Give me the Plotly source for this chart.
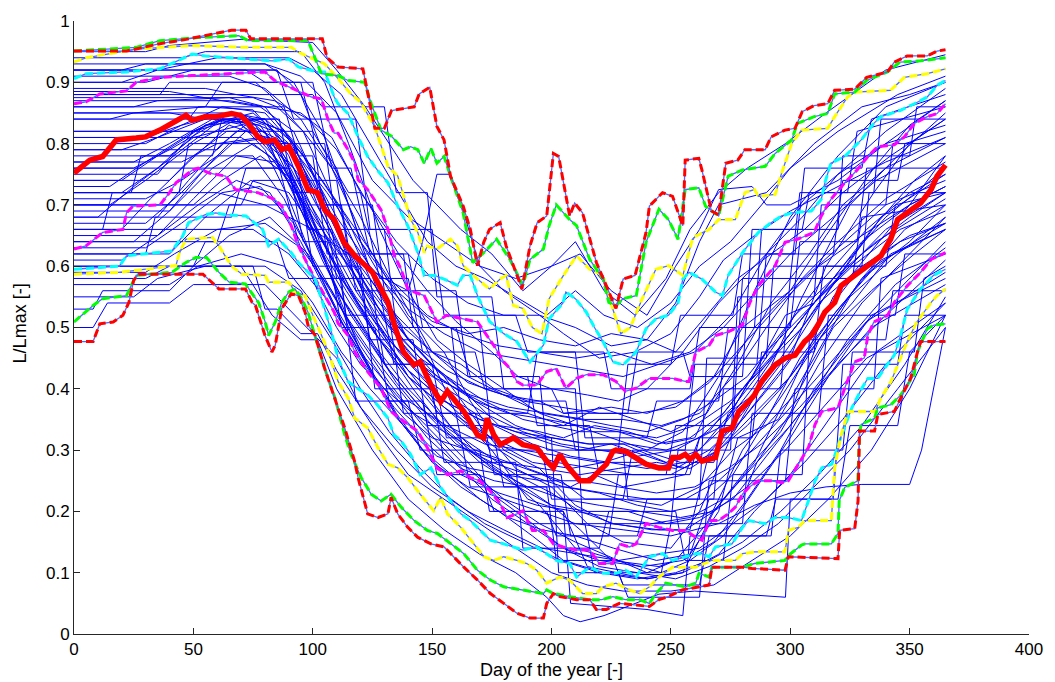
import plotly.graph_objects as go

# ---------------- envelope curves (day, L/Lmax) ----------------
red_upper = [(0,.951),(22,.951),(36,.963),(47,.97),(66,.985),(72,.985),(74,.971),(104,.971),(106,.94),(110.6,.925),(121,.922),(126,.825),(130,.825),(133,.854),(142.5,.86),(144.6,.881),(149,.892),(152,.828),(155,.806),(157.7,.747),(163,.698),(166,.66),(169,.601),(171.6,.639),(174,.66),(178.5,.671),(181,.633),(187.6,.563),(191,.633),(194,.671),(198,.682),(200.8,.784),(203,.779),(207.6,.682),(209.7,.703),(213,.687),(218.8,.606),(223,.569),(227,.531),(230,.579),(235,.585),(239.6,.655),(241,.698),(246.5,.72),(250.7,.714),(255,.666),(256,.773),(261.7,.776),(263,.757),(267,.69),(270,.684),(273,.768),(278,.773),(281,.79),(289.5,.79),(292,.811),(297.8,.822),(302,.825),(305,.852),(310,.862),(315.7,.865),(318.6,.887),(327,.889),(332,.908),(340.7,.917),(343.6,.933),(349,.943),(357.4,.943),(361.5,.951),(365,.953)]
green_upper = [(0,.951),(26,.957),(36,.968),(52,.973),(69,.976),(73,.968),(91,.968),(98,.968),(103.6,.914),(110.6,.911),(114.8,.903),(121.7,.90),(124.5,.865),(128.6,.822),(133,.812),(138,.79),(141,.795),(144,.79),(146.7,.768),(149.5,.792),(152,.768),(155,.779),(157.7,.747),(163,.687),(167,.606),(171.6,.622),(177,.644),(182.6,.611),(188,.569),(191,.611),(196.6,.628),(199,.666),(202,.70),(205,.687),(207.6,.676),(210.5,.666),(216,.611),(221.6,.579),(224,.541),(227,.536),(230,.547),(235.5,.552),(239.6,.639),(245,.693),(249,.676),(253,.644),(256,.725),(261.7,.728),(264.5,.698),(270,.682),(274,.747),(280,.757),(289.5,.763),(293.7,.784),(300.6,.806),(303,.833),(310,.844),(315.7,.849),(318.6,.881),(327,.884),(332,.903),(340.7,.917),(346,.933),(354.6,.935),(365,.94)]
yellow_upper = [(0,.933),(5,.94),(26,.954),(36,.957),(49.5,.96),(72,.957),(91,.957),(94,.949),(105,.93),(110.6,.906),(116,.881),(120,.868),(126,.827),(131.5,.763),(135.6,.747),(141,.676),(144,.655),(146.7,.622),(148,.633),(152,.628),(157.7,.644),(160.6,.633),(163,.601),(169,.579),(174,.563),(178.5,.579),(181,.585),(184,.536),(188,.531),(192,.50),(196,.49),(199,.547),(205,.585),(210.5,.617),(216,.595),(221.6,.585),(225.6,.531),(229,.49),(233,.50),(238,.547),(243.7,.595),(249,.601),(255,.585),(259,.644),(260.4,.649),(266,.66),(270,.676),(277,.676),(281,.72),(285,.725),(286.6,.714),(293.7,.717),(296.4,.752),(300.6,.80),(304.7,.822),(315.7,.825),(318.6,.844),(324,.876),(327,.884),(342,.887),(347.8,.908),(357.4,.914),(365,.922)]
cyan_upper = [(0,.906),(5,.914),(22,.917),(36,.922),(49.5,.946),(55,.943),(72,.938),(83,.935),(90,.938),(94,.925),(102,.917),(105,.917),(109,.876),(110.6,.865),(114.8,.849),(119,.811),(123,.779),(127,.757),(131.5,.736),(135.6,.698),(139.8,.666),(144,.622),(146.7,.585),(151,.585),(155,.579),(160.6,.569),(163,.585),(166,.585),(169,.552),(174,.51),(180,.49),(185.5,.477),(191,.444),(196.6,.471),(199,.514),(204.8,.54),(206,.558),(210,.547),(214.6,.525),(218,.50),(221.6,.477),(225.7,.444),(230,.439),(235.4,.46),(239.6,.498),(243.7,.514),(249,.52),(253,.54),(255,.579),(257.6,.59),(263,.579),(268.7,.558),(271.6,.552),(274,.585),(280,.622),(286.6,.655),(292,.671),(296.4,.682),(300.6,.687),(308.8,.69),(313,.709),(314.5,.736),(317,.768),(322.8,.779),(329.7,.806),(335,.833),(338,.844),(346,.854),(352,.865),(357.4,.876),(361.5,.895),(365,.903)]
magenta_upper = [(0,.865),(5,.868),(10.8,.881),(22,.886),(26,.90),(36,.908),(49.5,.911),(80,.917),(84,.903),(88.4,.895),(99.5,.876),(103.6,.873),(106.5,.838),(109,.817),(110.6,.817),(114.8,.79),(117.6,.768),(119,.741),(123,.725),(128.6,.692),(131.5,.66),(134.2,.617),(137,.595),(139.8,.563),(142.4,.558),(146.7,.552),(152,.509),(156,.52),(163,.514),(169,.509),(175.8,.471),(180,.444),(182.6,.433),(185.5,.412),(188,.406),(193.8,.406),(198,.428),(202,.433),(206,.401),(210.5,.417),(214.6,.423),(221.6,.423),(227,.412),(231,.396),(235.4,.401),(241,.417),(250.7,.417),(256,.412),(257.6,.412),(260.4,.46),(266,.471),(268.7,.487),(274,.493),(280,.504),(283,.54),(286.6,.568),(293.7,.601),(297.8,.639),(303,.644),(310,.655),(313,.682),(317,.709),(322.8,.736),(328,.757),(332.5,.779),(336.6,.795),(343.6,.798),(347.8,.811),(352,.833),(357.4,.844),(361.5,.849),(365,.865)]
median_line = [(0,.752),(3.9,.763),(6.6,.773),(12,.779),(15,.795),(17.7,.806),(26,.809),(30,.811),(36,.822),(42.7,.838),(46.9,.846),(49.5,.838),(55,.844),(59.3,.844),(66,.849),(69.7,.846),(73,.833),(77,.811),(80,.803),(84,.806),(87,.79),(90,.795),(94,.763),(98,.725),(102,.72),(105,.692),(109,.676),(113,.639),(117.6,.617),(121,.605),(125,.59),(129,.56),(131.5,.541),(134.2,.504),(138,.46),(142.4,.439),(145,.444),(149.5,.406),(153.6,.379),(156.4,.396),(160.6,.374),(163.3,.363),(169,.325),(171.6,.32),(173,.352),(175.8,.325),(178.6,.309),(184,.32),(188,.309),(193.8,.304),(198,.282),(200.8,.271),(203.5,.293),(206,.277),(211.9,.25),(216,.25),(220,.266),(223,.277),(225.7,.298),(227,.30),(231,.298),(235.4,.288),(239.6,.277),(245,.271),(249,.271),(250.7,.288),(253.5,.288),(256,.293),(258,.285),(260.4,.293),(263,.282),(268.7,.288),(271.5,.331),(275.6,.336),(278.4,.363),(282.6,.379),(285,.39),(288,.412),(293.7,.439),(297.8,.45),(302,.455),(306,.477),(308.9,.487),(311.6,.504),(314.5,.525),(318.6,.541),(321.3,.568),(327,.585),(332.5,.601),(338,.617),(342,.644),(345,.676),(349,.687),(354.6,.703),(359,.725),(361.5,.747),(365,.765)]
magenta_lower = [(0,.628),(5,.633),(12,.655),(20.5,.66),(22,.687),(24.7,.698),(36,.70),(40,.72),(42.7,.736),(49.6,.757),(52,.76),(56.6,.752),(63.5,.747),(67.6,.725),(77,.72),(84,.709),(87,.698),(91,.666),(94,.633),(99.5,.59),(105,.552),(109,.525),(110.6,.507),(114.8,.487),(117.6,.46),(123,.428),(128.6,.401),(132.8,.363),(138,.347),(143.9,.331),(148,.304),(152,.271),(156.4,.26),(162,.266),(166,.255),(170,.25),(174.4,.233),(178.6,.212),(181.4,.19),(185.5,.196),(188,.201),(192,.169),(196.6,.169),(200.8,.147),(204.9,.142),(210.5,.137),(216,.137),(220,.115),(225.6,.115),(228.5,.147),(232.6,.142),(235.4,.147),(239.6,.18),(245,.174),(250.7,.169),(256,.169),(260.4,.158),(263,.153),(266,.185),(270,.185),(274,.196),(277,.207),(280,.228),(282.6,.239),(286.7,.25),(292,.25),(296.4,.247),(299.2,.25),(303.4,.277),(307.6,.304),(310.4,.342),(313.2,.363),(320,.369),(322.8,.401),(327,.444),(331,.45),(332.5,.487),(335,.509),(340.8,.52),(343.6,.541),(349,.568),(354.6,.59),(359,.611),(365,.622)]
cyan_lower = [(0,.595),(19,.6),(22,.617),(41,.625),(45.5,.649),(48,.671),(55,.684),(59.3,.687),(63.5,.684),(72,.682),(79,.66),(81.5,.633),(85.7,.644),(91,.622),(94,.606),(101,.579),(105,.53),(108,.49),(110.6,.45),(114.8,.412),(119,.40),(123,.39),(127,.374),(131.5,.352),(134,.325),(137,.315),(141,.293),(145,.26),(149.5,.271),(153.6,.239),(157.8,.217),(162,.196),(166,.185),(170,.169),(174.4,.153),(180,.147),(184,.142),(188,.137),(193.8,.142),(198,.131),(202,.12),(207.6,.115),(210.5,.093),(216,.109),(221.6,.099),(227,.099),(231,.104),(235.4,.093),(238,.109),(241,.126),(246.5,.131),(250.7,.12),(256,.126),(260.4,.131),(263,.131),(266,.126),(268.7,.142),(275.6,.147),(280,.174),(282.6,.185),(289.5,.18),(293.7,.19),(299.2,.19),(304.7,.185),(307.6,.217),(310.4,.25),(313.2,.271),(317.4,.277),(321.6,.325),(325.8,.369),(330,.401),(332.5,.417),(336.7,.417),(339.4,.433),(343.6,.455),(346.2,.487),(349,.53),(354.6,.563),(360,.585),(365,.595)]
yellow_lower = [(0,.587),(19,.59),(36,.598),(42.7,.601),(44,.62),(46.8,.644),(57.9,.647),(60.7,.633),(66,.60),(70.4,.587),(80,.585),(81.5,.574),(90,.574),(92.6,.558),(96.8,.552),(99.5,.525),(103.7,.487),(106.5,.46),(110.6,.412),(114.8,.385),(117.6,.352),(123,.336),(127.3,.304),(131.5,.277),(135.6,.271),(139.8,.255),(145,.228),(150.7,.201),(153.6,.223),(156.4,.196),(162,.174),(167.5,.147),(171.7,.126),(175.8,.12),(180,.126),(185.5,.12),(189.7,.115),(193.8,.104),(198,.083),(203.5,.093),(207.6,.088),(213,.066),(218.8,.066),(221.6,.077),(227,.083),(232.6,.072),(236.8,.066),(241,.077),(245,.093),(250.7,.109),(256,.109),(260.4,.109),(267,.12),(277,.12),(280,.131),(285,.134),(297.8,.134),(299.2,.169),(303.4,.174),(306,.185),(317.2,.185),(318.6,.271),(321.3,.325),(324.2,.363),(335.5,.363),(338,.385),(342.2,.412),(346.3,.45),(349,.477),(353,.509),(359,.541),(361.5,.552),(365,.563)]
green_lower = [(0,.509),(5,.525),(8,.536),(12,.547),(22,.552),(26,.585),(41,.59),(46.9,.606),(51,.614),(55.5,.614),(60.7,.59),(65,.574),(71.8,.571),(77.4,.54),(80,.51),(81.5,.487),(84.3,.509),(87,.541),(90,.558),(92.5,.563),(95.4,.547),(98,.525),(101,.487),(105,.433),(109.3,.385),(113.4,.325),(116,.293),(120.3,.255),(124.5,.228),(128.7,.217),(132.8,.228),(137,.207),(142.5,.185),(148,.169),(152.2,.164),(157.8,.147),(163.3,.131),(169,.104),(174.4,.088),(180,.077),(188,.072),(196.6,.066),(198,.072),(200.8,.066),(207.6,.061),(216,.056),(221,.056),(225.7,.061),(231,.056),(236.8,.056),(241,.05),(243.7,.066),(247.9,.083),(252,.08),(256,.077),(260.4,.083),(261.8,.099),(266,.093),(267.2,.109),(280,.109),(285,.115),(297.8,.12),(299.2,.128),(304.7,.145),(306,.147),(317.2,.147),(320,.164),(320.5,.217),(322.8,.239),(328.3,.25),(329,.325),(329.7,.342),(335.3,.352),(336.7,.369),(342.2,.374),(346.3,.39),(351.9,.423),(353.3,.46),(357.4,.498),(360.2,.504),(365,.506)]
red_lower = [(0,.477),(8,.477),(10.8,.506),(16.4,.509),(20.5,.52),(23,.541),(25,.577),(27,.587),(54,.587),(60.7,.563),(71.8,.563),(74.6,.541),(76,.536),(80,.487),(82.9,.46),(84.3,.471),(87,.531),(91,.555),(94,.552),(96.8,.525),(98,.504),(101,.487),(105,.433),(109.3,.385),(113.4,.336),(117.5,.282),(119,.255),(123,.196),(127.3,.19),(131.5,.196),(132.8,.223),(135.6,.196),(139.8,.174),(143.9,.158),(149.5,.147),(155,.142),(159,.126),(163.3,.109),(169,.088),(174.4,.066),(180,.05),(185.5,.034),(191,.026),(196.6,.026),(198,.05),(200.8,.066),(203.5,.061),(210.5,.056),(216,.056),(218.8,.04),(223,.04),(228.5,.05),(241,.045),(245,.056),(249,.061),(254.8,.072),(266,.08),(267.2,.109),(280,.109),(284,.107),(297.8,.104),(299.2,.126),(320,.123),(320.7,.169),(327,.172),(328.4,.217),(329,.331),(335.3,.331),(336.7,.358),(343.6,.363),(346.3,.385),(350.4,.417),(353.3,.46),(354.6,.477),(365,.477)]

# ---------------- individual years (thin blue lines) ----------------
blue_01 = [(0,.94),(45,.94),(55,.95),(95,.95),(105,.90),(115,.80),(128,.66),(140,.56),(152,.48),(165,.44),(180,.40),(195,.36),(210,.34),(225,.32),(240,.30),(255,.33),(270,.42),(285,.56),(300,.68),(320,.78),(340,.86),(365,.90)]
blue_02 = [(0,.92),(20,.92),(30,.93),(80,.93),(92,.90),(104,.82),(115,.70),(127,.56),(140,.48),(155,.42),(170,.34),(185,.27),(200,.24),(215,.18),(230,.15),(250,.14),(262,.20),(275,.32),(290,.42),(305,.55),(325,.70),(345,.78),(365,.85)]
blue_03 = [(0,.91),(65,.91),(80,.89),(95,.84),(108,.76),(122,.64),(140,.52),(155,.46),(166,.38),(180,.30),(195,.27),(210,.21),(225,.18),(245,.17),(258,.17),(265,.28),(280,.35),(300,.45),(315,.60),(335,.72),(350,.80),(365,.84)]
blue_04 = [(0,.90),(30,.90),(50,.92),(85,.92),(95,.88),(103,.80),(110,.76),(120,.64),(132,.56),(146,.48),(160,.36),(175,.30),(190,.22),(205,.20),(215,.11),(240,.09),(255,.10),(268,.20),(285,.28),(300,.40),(318,.55),(335,.63),(350,.70),(365,.78)]
blue_05 = [(0,.89),(55,.89),(68,.88),(84,.87),(98,.84),(110,.79),(122,.71),(136,.62),(148,.56),(160,.51),(175,.46),(186,.42),(200,.40),(215,.39),(228,.38),(240,.40),(255,.46),(270,.54),(290,.62),(305,.68),(320,.75),(340,.82),(365,.89)]
blue_06 = [(0,.885),(40,.885),(62,.87),(78,.86),(92,.82),(104,.72),(116,.60),(128,.50),(140,.42),(155,.35),(170,.29),(185,.25),(200,.21),(212,.17),(225,.12),(245,.11),(258,.13),(270,.20),(278,.32),(295,.35),(310,.45),(325,.55),(345,.62),(365,.68)]
blue_07 = [(0,.875),(75,.875),(85,.86),(96,.82),(108,.76),(120,.68),(134,.57),(150,.46),(165,.41),(180,.39),(195,.38),(205,.36),(225,.37),(240,.36),(255,.38),(268,.42),(280,.50),(300,.56),(315,.65),(335,.76),(350,.83),(365,.87)]
blue_08 = [(0,.86),(25,.86),(35,.87),(65,.875),(80,.86),(92,.80),(102,.70),(112,.62),(124,.52),(136,.45),(150,.38),(165,.30),(180,.26),(195,.21),(210,.14),(228,.12),(240,.10),(252,.12),(265,.18),(280,.30),(295,.38),(312,.48),(330,.58),(350,.64),(365,.70)]
blue_09 = [(0,.85),(62,.85),(72,.845),(88,.82),(102,.75),(114,.68),(126,.58),(140,.48),(152,.43),(165,.39),(178,.34),(195,.33),(205,.32),(218,.34),(232,.33),(248,.31),(260,.32),(272,.42),(285,.50),(300,.56),(320,.63),(340,.70),(365,.74)]
blue_10 = [(0,.84),(15,.84),(25,.85),(55,.86),(75,.855),(88,.80),(98,.74),(110,.66),(122,.58),(136,.50),(150,.44),(168,.38),(185,.34),(200,.32),(215,.31),(230,.31),(248,.28),(262,.30),(275,.36),(290,.46),(305,.52),(320,.58),(340,.66),(365,.72)]
blue_11 = [(0,.82),(50,.82),(62,.84),(84,.84),(95,.79),(106,.70),(118,.60),(132,.50),(145,.44),(160,.40),(175,.37),(190,.36),(205,.34),(220,.37),(235,.35),(250,.33),(265,.36),(278,.44),(292,.54),(308,.62),(322,.70),(340,.76),(365,.81)]
blue_12 = [(0,.81),(30,.81),(45,.83),(65,.85),(80,.83),(90,.76),(100,.66),(110,.56),(122,.49),(135,.41),(150,.34),(165,.28),(178,.22),(192,.18),(205,.14),(220,.12),(238,.11),(255,.12),(268,.15),(282,.22),(296,.30),(310,.40),(330,.50),(350,.58),(365,.64)]
blue_13 = [(0,.80),(30,.80),(45,.83),(62,.86),(80,.85),(96,.78),(110,.68),(124,.60),(140,.53),(155,.49),(170,.46),(185,.45),(200,.44),(215,.43),(230,.42),(245,.44),(260,.46),(275,.52),(290,.62),(305,.70),(320,.75),(340,.80),(365,.83)]
blue_14 = [(0,.79),(20,.79),(35,.81),(55,.84),(70,.85),(82,.81),(92,.73),(102,.64),(114,.56),(126,.49),(140,.43),(155,.38),(170,.35),(185,.33),(200,.31),(212,.30),(225,.31),(240,.29),(255,.27),(270,.30),(285,.36),(300,.42),(318,.52),(335,.60),(365,.67)]
blue_15 = [(0,.78),(40,.78),(50,.81),(70,.83),(86,.79),(96,.69),(108,.59),(120,.51),(132,.43),(145,.37),(160,.31),(175,.28),(190,.26),(205,.24),(220,.23),(236,.21),(250,.20),(262,.21),(276,.26),(290,.35),(304,.45),(320,.53),(338,.61),(365,.66)]
blue_16 = [(0,.77),(25,.77),(40,.80),(58,.84),(72,.83),(86,.77),(100,.68),(115,.60),(130,.51),(145,.45),(160,.41),(172,.38),(188,.35),(200,.34),(212,.33),(228,.33),(244,.32),(260,.34),(275,.38),(290,.44),(305,.50),(320,.58),(338,.68),(365,.75)]
blue_17 = [(0,.76),(25,.76),(40,.79),(62,.84),(76,.83),(88,.75),(100,.65),(112,.55),(126,.47),(140,.40),(155,.34),(170,.30),(185,.26),(200,.23),(212,.20),(226,.18),(242,.17),(256,.17),(268,.20),(282,.27),(296,.33),(312,.44),(330,.54),(350,.62),(365,.68)]
blue_18 = [(0,.74),(20,.74),(35,.78),(55,.83),(80,.84),(92,.80),(104,.74),(118,.66),(132,.58),(148,.52),(162,.49),(178,.47),(195,.46),(210,.45),(226,.46),(242,.44),(258,.46),(272,.50),(286,.56),(300,.62),(318,.68),(336,.74),(365,.80)]
blue_19 = [(0,.73),(15,.73),(30,.77),(50,.82),(68,.84),(80,.79),(90,.71),(100,.61),(110,.53),(122,.45),(135,.39),(150,.33),(165,.27),(180,.22),(195,.18),(210,.15),(228,.12),(246,.10),(258,.12),(272,.16),(286,.24),(300,.32),(316,.42),(334,.52),(365,.58)]
blue_20 = [(0,.72),(20,.72),(35,.76),(55,.83),(75,.85),(90,.80),(105,.70),(120,.60),(135,.52),(150,.46),(165,.42),(180,.39),(196,.36),(212,.35),(225,.34),(240,.33),(255,.35),(268,.38),(282,.42),(298,.50),(314,.58),(332,.66),(350,.72),(365,.75)]
blue_21 = [(0,.71),(30,.71),(45,.74),(60,.78),(75,.78),(88,.71),(100,.61),(112,.51),(124,.43),(136,.35),(148,.29),(162,.24),(178,.20),(192,.16),(205,.12),(222,.10),(240,.09),(255,.10),(270,.13),(285,.20),(300,.26),(318,.36),(336,.46),(365,.54)]
blue_22 = [(0,.70),(15,.70),(30,.74),(50,.80),(68,.84),(84,.81),(96,.72),(110,.63),(124,.55),(138,.48),(152,.42),(168,.38),(182,.36),(198,.35),(212,.34),(228,.33),(244,.31),(258,.32),(272,.36),(288,.44),(302,.52),(318,.58),(336,.64),(365,.71)]
blue_23 = [(0,.69),(40,.69),(55,.76),(72,.82),(90,.80),(106,.72),(120,.64),(135,.56),(150,.51),(165,.49),(180,.50),(195,.48),(210,.47),(225,.49),(240,.48),(252,.46),(265,.52),(278,.58),(292,.62),(306,.66),(322,.72),(342,.78),(365,.84)]
blue_24 = [(0,.68),(10,.68),(25,.73),(45,.79),(62,.84),(78,.83),(90,.76),(102,.66),(114,.57),(128,.48),(142,.40),(156,.33),(170,.28),(186,.24),(200,.21),(215,.20),(232,.20),(248,.18),(262,.19),(276,.22),(292,.30),(308,.38),(324,.48),(344,.57),(365,.63)]
blue_25 = [(0,.67),(30,.67),(45,.72),(65,.80),(82,.81),(96,.74),(110,.64),(124,.56),(140,.48),(156,.43),(172,.40),(188,.38),(204,.37),(220,.36),(236,.36),(252,.37),(266,.41),(280,.47),(296,.54),(312,.60),(330,.65),(350,.70),(365,.73)]
blue_26 = [(0,.66),(20,.66),(32,.71),(48,.77),(65,.83),(80,.81),(92,.72),(104,.61),(116,.52),(130,.44),(145,.37),(160,.32),(175,.27),(190,.24),(205,.22),(220,.21),(238,.20),(254,.19),(268,.20),(282,.24),(298,.30),(314,.37),(332,.45),(365,.52)]
blue_27 = [(0,.65),(35,.65),(50,.71),(68,.78),(84,.77),(98,.69),(112,.58),(126,.49),(140,.42),(155,.37),(170,.33),(186,.30),(202,.28),(218,.27),(234,.26),(250,.26),(265,.29),(280,.36),(296,.45),(312,.54),(330,.60),(350,.65),(365,.67)]
blue_28 = [(0,.64),(25,.64),(40,.69),(58,.76),(75,.80),(88,.76),(100,.67),(112,.58),(126,.50),(140,.43),(155,.38),(170,.35),(185,.33),(200,.32),(216,.31),(232,.31),(248,.30),(262,.32),(276,.37),(290,.44),(306,.52),(322,.60),(340,.68),(365,.76)]
blue_29 = [(0,.63),(30,.63),(45,.67),(62,.72),(78,.73),(92,.67),(105,.58),(118,.49),(132,.41),(146,.34),(160,.28),(175,.22),(190,.18),(205,.14),(220,.11),(236,.10),(252,.09),(266,.11),(280,.14),(295,.18),(310,.24),(325,.30),(345,.40),(365,.50)]
blue_30 = [(0,.62),(40,.62),(55,.68),(74,.74),(90,.72),(104,.64),(118,.55),(134,.47),(150,.42),(166,.39),(182,.37),(198,.36),(214,.35),(230,.35),(246,.34),(262,.36),(276,.42),(290,.50),(305,.58),(320,.64),(340,.71),(365,.77)]
blue_31 = [(0,.61),(20,.61),(35,.65),(52,.70),(68,.74),(82,.72),(95,.64),(108,.54),(120,.45),(134,.37),(148,.31),(162,.26),(178,.23),(194,.21),(210,.20),(226,.19),(242,.18),(258,.19),(272,.22),(286,.28),(300,.34),(316,.42),(334,.50),(365,.57)]
blue_32 = [(0,.60),(50,.60),(65,.65),(82,.68),(98,.62),(112,.53),(126,.45),(140,.38),(156,.34),(172,.31),(188,.30),(204,.29),(220,.28),(236,.28),(252,.27),(266,.30),(280,.35),(295,.42),(310,.50),(326,.58),(346,.64),(365,.67)]
blue_33 = [(0,.59),(30,.59),(42,.62),(60,.66),(80,.67),(95,.63),(108,.56),(120,.47),(134,.39),(148,.32),(162,.27),(176,.25),(190,.24),(206,.24),(222,.23),(240,.22),(256,.22),(270,.25),(284,.30),(298,.36),(314,.43),(332,.51),(365,.59)]
blue_34 = [(0,.57),(40,.57),(52,.60),(70,.62),(88,.60),(100,.54),(112,.46),(124,.40),(138,.34),(152,.29),(166,.27),(180,.26),(196,.25),(212,.25),(228,.24),(244,.23),(260,.24),(274,.27),(288,.31),(304,.37),(320,.44),(340,.52),(365,.61)]
blue_35 = [(0,.55),(25,.55),(35,.58),(55,.60),(80,.60),(95,.56),(108,.48),(120,.40),(132,.33),(145,.27),(158,.22),(172,.18),(188,.15),(204,.12),(220,.10),(236,.09),(252,.10),(266,.12),(280,.15),(296,.20),(312,.26),(330,.34),(348,.44),(365,.55)]
blue_36 = [(0,.53),(8,.53),(12,.56),(40,.56),(50,.60),(75,.60),(80,.53),(85,.53),(95,.49),(102,.49),(110,.43),(125,.34),(140,.26),(155,.22),(170,.18),(185,.14),(200,.10),(215,.08),(230,.07),(250,.07),(268,.08),(284,.12),(300,.16),(316,.22),(334,.30),(350,.40),(365,.52)]
blue_37 = [(0,.50),(8,.50),(14,.54),(40,.54),(50,.57),(80,.57),(95,.51),(110,.45),(120,.37),(135,.30),(150,.24),(165,.20),(180,.17),(196,.14),(212,.13),(228,.12),(244,.13),(262,.14),(276,.18),(290,.22),(306,.28),(322,.35),(340,.44),(365,.54)]
blue_38 = [(0,.88),(100,.88),(104,.86),(130,.86),(135,.72),(148,.72),(152,.55),(175,.55),(180,.40),(210,.40),(213,.18),(250,.18),(253,.30),(275,.30),(278,.55),(310,.55),(313,.70),(340,.70),(343,.80),(365,.80)]
blue_39 = [(0,.76),(90,.76),(95,.70),(125,.70),(130,.56),(160,.56),(165,.42),(195,.42),(198,.30),(230,.30),(232,.22),(262,.22),(265,.45),(290,.45),(293,.60),(330,.60),(333,.72),(365,.72)]
blue_40 = [(0,.70),(70,.70),(75,.74),(110,.74),(115,.62),(138,.62),(142,.50),(170,.50),(175,.32),(200,.32),(203,.10),(228,.10),(232,.06),(262,.06),(266,.25),(298,.25),(302,.40),(335,.40),(338,.58),(365,.62)]
blue_41 = [(0,.92),(85,.92),(92,.84),(118,.84),(124,.66),(150,.66),(155,.52),(185,.52),(190,.46),(222,.46),(225,.40),(258,.40),(262,.50),(285,.50),(288,.66),(320,.66),(322,.78),(350,.78),(353,.86),(365,.86)]
blue_42 = [(0,.64),(60,.64),(65,.70),(96,.70),(100,.60),(120,.60),(126,.40),(150,.40),(155,.28),(185,.28),(188,.14),(220,.14),(224,.20),(252,.20),(256,.12),(272,.12),(276,.26),(305,.26),(308,.48),(340,.48),(343,.56),(365,.56)]
blue_43 = [(0,.82),(75,.82),(80,.80),(105,.80),(110,.66),(130,.66),(135,.50),(158,.50),(162,.36),(190,.36),(194,.46),(210,.46),(214,.32),(240,.32),(244,.38),(270,.38),(274,.50),(300,.50),(304,.64),(328,.64),(332,.76),(365,.76)]
blue_44 = [(0,.60),(50,.60),(55,.64),(85,.64),(90,.58),(112,.58),(118,.38),(140,.38),(145,.30),(170,.30),(174,.20),(205,.20),(208,.05),(240,.04),(255,.03),(258,.16),(290,.16),(294,.22),(318,.22),(322,.44),(345,.44),(348,.52),(365,.52)]
blue_45 = [(0,.86),(55,.86),(62,.90),(95,.90),(100,.82),(115,.72),(120,.72),(128,.58),(140,.58),(146,.46),(168,.46),(172,.40),(200,.40),(205,.36),(232,.36),(236,.46),(255,.46),(258,.42),(280,.42),(284,.66),(305,.66),(308,.72),(335,.72),(338,.84),(365,.84)]
blue_46 = [(0,.58),(30,.58),(40,.60),(70,.60),(83,.52),(95,.48),(102,.48),(110,.40),(125,.30),(140,.22),(155,.17),(170,.13),(185,.10),(198,.06),(205,.03),(212,.02),(222,.03),(245,.065),(260,.07),(280,.065),(298,.06),(300,.22),(320,.22),(325,.34),(345,.34),(350,.46),(365,.52)]
blue_47 = [(0,.66),(75,.66),(90,.62),(105,.55),(120,.46),(135,.36),(150,.28),(165,.24),(180,.22),(195,.20),(210,.18),(230,.17),(250,.16),(270,.18),(285,.21),(300,.23),(315,.24),(330,.244),(350,.244),(355,.30),(360,.40),(365,.50)]
blue_48 = [(0,.72),(60,.72),(80,.70),(100,.66),(115,.62),(130,.58),(140,.56),(146,.64),(152,.75),(157,.75),(163,.69),(170,.60),(180,.56),(195,.52),(210,.50),(225,.47),(240,.48),(252,.54),(262,.64),(270,.70),(290,.72),(310,.80),(330,.86),(350,.88),(365,.90)]
blue_49 = [(0,.93),(80,.93),(95,.91),(110,.85),(125,.74),(140,.68),(155,.64),(170,.60),(185,.58),(200,.60),(212,.62),(225,.56),(240,.52),(252,.60),(262,.66),(270,.725),(284,.73),(290,.70),(300,.70),(320,.74),(340,.80),(365,.87)]
blue_50 = [(0,.87),(65,.87),(80,.86),(95,.85),(108,.81),(120,.72),(135,.64),(150,.58),(165,.54),(180,.52),(195,.52),(205,.49),(220,.45),(235,.46),(250,.49),(262,.55),(272,.61),(285,.65),(300,.69),(320,.73),(340,.77),(365,.81)]
blue_51 = [(0,.95),(30,.95),(40,.96),(70,.97),(100,.965),(110,.92),(122,.86),(132,.80),(142,.74),(152,.70),(162,.66),(175,.62),(188,.56),(200,.60),(210,.64),(222,.56),(235,.52),(248,.58),(258,.66),(270,.72),(282,.76),(298,.80),(315,.85),(340,.92),(365,.945)]
blue_52 = [(0,.90),(20,.90),(35,.92),(60,.94),(90,.94),(100,.92),(112,.88),(124,.80),(136,.72),(148,.64),(160,.60),(172,.58),(185,.55),(198,.52),(210,.56),(222,.52),(236,.50),(250,.54),(262,.60),(275,.64),(288,.70),(300,.76),(320,.82),(345,.88),(365,.91)]
blue_53 = [(0,.75),(35,.75),(50,.82),(66,.85),(80,.84),(90,.78),(98,.70),(106,.60),(115,.50),(126,.42),(138,.36),(150,.32),(165,.30),(180,.28),(196,.27),(212,.26),(228,.27),(244,.28),(258,.27),(270,.30),(282,.34),(296,.40),(312,.48),(330,.58),(348,.66),(365,.70)]
blue_54 = [(0,.85),(40,.85),(55,.84),(70,.84),(84,.82),(96,.76),(108,.66),(122,.55),(136,.46),(150,.40),(164,.35),(178,.31),(192,.28),(208,.27),(222,.28),(238,.30),(254,.28),(268,.28),(274,.36),(288,.40),(300,.46),(316,.56),(334,.66),(352,.74),(365,.78)]
blue_55 = [(0,.77),(45,.77),(60,.80),(78,.81),(92,.76),(104,.66),(118,.56),(132,.48),(146,.42),(160,.38),(176,.34),(192,.31),(208,.29),(224,.28),(240,.27),(256,.28),(270,.33),(284,.40),(298,.48),(314,.56),(330,.64),(350,.70),(365,.73)]
blue_56 = [(0,.68),(35,.68),(48,.74),(62,.80),(75,.84),(88,.82),(100,.74),(112,.64),(126,.54),(140,.46),(156,.40),(172,.36),(188,.33),(204,.31),(220,.30),(236,.29),(252,.30),(266,.33),(280,.40),(296,.47),(312,.55),(330,.62),(350,.68),(365,.72)]
blue_57 = [(0,.84),(48,.84),(52,.86),(88,.86),(94,.78),(100,.78),(106,.62),(118,.62),(124,.48),(142,.48),(148,.34),(172,.34),(176,.26),(204,.26),(208,.16),(236,.16),(240,.22),(268,.22),(272,.40),(296,.40),(300,.58),(326,.58),(330,.68),(365,.70)]
blue_58 = [(0,.66),(12,.66),(16,.72),(44,.72),(48,.80),(92,.80),(98,.66),(108,.66),(114,.52),(132,.52),(138,.36),(160,.36),(166,.24),(186,.24),(190,.18),(214,.18),(218,.10),(246,.10),(250,.18),(280,.18),(284,.36),(312,.36),(316,.52),(344,.52),(348,.62),(365,.62)]
blue_59 = [(0,.92),(72,.92),(80,.90),(100,.90),(108,.76),(116,.76),(124,.62),(140,.62),(146,.50),(160,.50),(166,.42),(190,.42),(194,.34),(216,.34),(220,.26),(248,.26),(252,.34),(276,.34),(280,.58),(300,.58),(304,.72),(324,.72),(328,.82),(365,.86)]
blue_60 = [(0,.79),(60,.79),(68,.82),(100,.82),(104,.70),(112,.70),(118,.56),(128,.56),(134,.44),(150,.44),(156,.32),(176,.32),(180,.24),(198,.24),(202,.12),(226,.12),(230,.08),(262,.08),(266,.16),(292,.16),(296,.30),(322,.30),(326,.46),(352,.46),(356,.58),(365,.60)]
blue_61 = [(0,.72),(24,.72),(28,.78),(58,.78),(62,.84),(86,.84),(92,.72),(104,.72),(110,.58),(124,.58),(130,.44),(146,.44),(152,.36),(168,.36),(174,.30),(196,.30),(200,.22),(230,.22),(234,.30),(256,.30),(260,.44),(286,.44),(290,.62),(318,.62),(322,.74),(345,.74),(348,.80),(365,.82)]
blue_62 = [(0,.62),(30,.62),(34,.68),(66,.68),(72,.76),(90,.76),(96,.64),(106,.64),(112,.50),(126,.50),(132,.38),(146,.38),(152,.26),(170,.26),(176,.20),(198,.20),(202,.16),(224,.16),(228,.26),(258,.26),(262,.32),(284,.32),(288,.46),(310,.46),(314,.60),(340,.60),(344,.70),(365,.72)]
blue_63 = [(0,.88),(36,.88),(40,.90),(76,.90),(82,.88),(96,.82),(110,.70),(124,.58),(138,.50),(150,.46),(162,.44),(176,.40),(190,.38),(206,.38),(210,.30),(228,.30),(232,.44),(250,.44),(254,.52),(276,.52),(280,.62),(302,.62),(306,.76),(330,.76),(334,.84),(365,.88)]
blue_64 = [(0,.81),(70,.81),(82,.78),(94,.72),(104,.62),(112,.54),(120,.46),(128,.40),(136,.35),(146,.30),(158,.26),(170,.22),(182,.19),(196,.17),(210,.16),(226,.14),(244,.12),(258,.13),(266,.22),(280,.22),(286,.28),(300,.36),(312,.48),(326,.54),(342,.62),(365,.66)]
blue_65 = [(0,.74),(40,.74),(50,.78),(64,.82),(80,.82),(86,.76),(94,.64),(102,.56),(110,.50),(120,.44),(130,.40),(142,.36),(155,.33),(168,.30),(182,.28),(196,.26),(208,.24),(218,.26),(230,.24),(244,.25),(256,.26),(262,.32),(272,.34),(284,.42),(298,.52),(310,.54),(326,.60),(346,.66),(365,.69)]
blue_66 = [(0,.70),(50,.70),(62,.74),(78,.78),(92,.74),(104,.66),(116,.56),(128,.48),(140,.42),(152,.38),(164,.34),(178,.30),(190,.27),(204,.25),(214,.22),(230,.22),(246,.21),(262,.24),(276,.30),(290,.34),(304,.40),(318,.50),(334,.56),(352,.62),(365,.66)]

blue_lines = [blue_01, blue_02, blue_03, blue_04, blue_05, blue_06, blue_07, blue_08,
              blue_09, blue_10, blue_11, blue_12, blue_13, blue_14, blue_15, blue_16,
              blue_17, blue_18, blue_19, blue_20, blue_21, blue_22, blue_23, blue_24,
              blue_25, blue_26, blue_27, blue_28, blue_29, blue_30, blue_31, blue_32,
              blue_33, blue_34, blue_35, blue_36, blue_37, blue_38, blue_39, blue_40,
              blue_41, blue_42, blue_43, blue_44, blue_45, blue_46, blue_47, blue_48,
              blue_49, blue_50, blue_51, blue_52, blue_53, blue_54, blue_55, blue_56,
              blue_57, blue_58, blue_59, blue_60, blue_61, blue_62, blue_63, blue_64,
              blue_65, blue_66]

x_ticks = [0, 50, 100, 150, 200, 250, 300, 350, 400]
y_ticks = [0, 0.1, 0.2, 0.3, 0.4, 0.5, 0.6, 0.7, 0.8, 0.9, 1]

BLUE = "#0000FF"
envelopes = [
    (magenta_upper, "#FF00FF"), (magenta_lower, "#FF00FF"),
    (cyan_upper, "#00FFFF"), (cyan_lower, "#00FFFF"),
    (yellow_upper, "#FFFF00"), (yellow_lower, "#FFFF00"),
    (green_upper, "#00FF00"), (green_lower, "#00FF00"),
    (red_upper, "#FF0000"), (red_lower, "#FF0000"),
]

fig = go.Figure()

def xs(pts):
    return [p[0] for p in pts]

def ys(pts):
    return [p[1] for p in pts]

for line in blue_lines:
    fig.add_trace(go.Scatter(x=xs(line), y=ys(line), mode="lines",
                             line=dict(color=BLUE, width=1),
                             hoverinfo="skip", showlegend=False))

for pts, color in envelopes:
    fig.add_trace(go.Scatter(x=xs(pts), y=ys(pts), mode="lines",
                             line=dict(color="#4F6BFF", width=1.3),
                             hoverinfo="skip", showlegend=False))
    fig.add_trace(go.Scatter(x=xs(pts), y=ys(pts), mode="lines",
                             line=dict(color=color, width=3, dash="8px,4px"),
                             hoverinfo="skip", showlegend=False))

fig.add_trace(go.Scatter(x=xs(median_line), y=ys(median_line), mode="lines",
                         line=dict(color="#FF0000", width=5.5),
                         hoverinfo="skip", showlegend=False))

axis_font = dict(family="Liberation Sans, Arial, sans-serif", size=17, color="#000000")

fig.update_layout(
    width=1055, height=682,
    margin=dict(l=74, r=19.5, t=17, b=48, pad=0),
    paper_bgcolor="#FFFFFF", plot_bgcolor="#FFFFFF",
    font=axis_font,
    xaxis=dict(range=[0, 400], tickvals=x_ticks, ticks="inside", ticklen=6,
               tickcolor="#262626", showline=True, linecolor="#262626", linewidth=1,
               showgrid=False, zeroline=False, mirror=False, tickfont=axis_font),
    yaxis=dict(range=[0, 1], tickvals=y_ticks, ticks="inside", ticklen=6,
               tickcolor="#262626", showline=True, linecolor="#262626", linewidth=1,
               showgrid=False, zeroline=False, mirror=False, tickfont=axis_font),
    annotations=[
        dict(text="Day of the year [-]", xref="paper", yref="paper", x=0.5, y=-0.059,
             xanchor="center", yanchor="middle", showarrow=False,
             font=dict(family="Liberation Sans, Arial, sans-serif", size=18, color="#000000")),
        dict(text="L/Lmax [-]", xref="paper", yref="paper", x=-0.057, y=0.506,
             xanchor="center", yanchor="middle", showarrow=False, textangle=-90,
             font=dict(family="Liberation Sans, Arial, sans-serif", size=18, color="#000000")),
    ],
)

fig.write_html("out.html")
